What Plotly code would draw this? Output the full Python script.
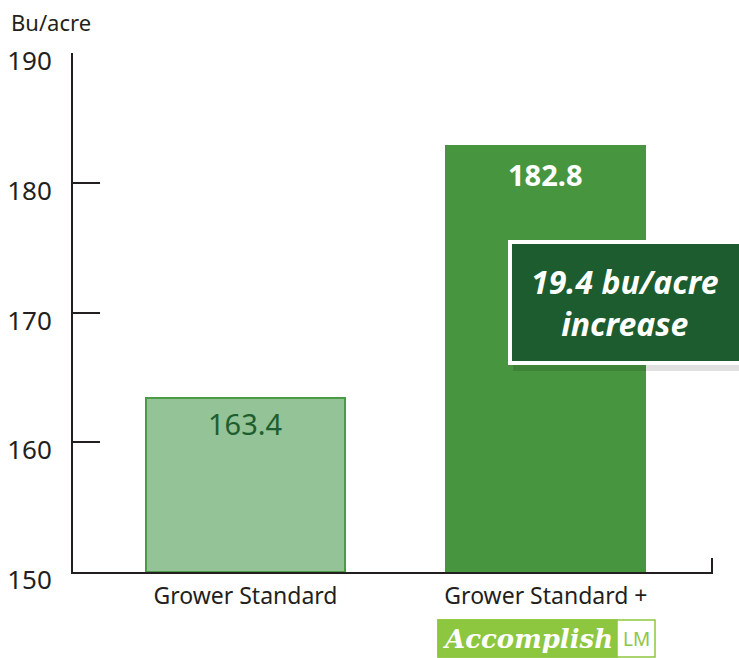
import plotly.graph_objects as go

categories = ["Grower Standard", "Grower Standard +"]
x_pos = [0, 1]
values = [163.4, 182.8]
value_labels = ["163.4", "182.8"]
bar_colors = ["#93c396", "#47963f"]
bar_lines = ["#4a9a48", "#47963f"]
label_colors = ["#1e5e2e", "#ffffff"]
y_ticks = [150, 160, 170, 180, 190]

FONT = "Noto Sans"
W, H = 739, 658
L, R, T, B = 73, 26, 53, 86
PW = W - L - R
PH = H - T - B

def px(x):
    return (x - L) / PW

def py(y):
    return (H - B - y) / PH

fig = go.Figure()
fig.add_trace(go.Bar(
    x=x_pos, y=[v - 150 for v in values], base=150,
    width=0.662,
    marker=dict(color=bar_colors, line=dict(color=bar_lines, width=2)),
    hoverinfo="skip",
))

annotations = []
for xi, v, t, c, bold in zip(x_pos, values, value_labels, label_colors, [False, True]):
    annotations.append(dict(
        x=xi, y=v, xref="x", yref="y", xanchor="center", yanchor="top",
        yshift=-7 if bold else -4,
        text=f"<b>{t}</b>" if bold else t, showarrow=False,
        font=dict(family=FONT, size=29, color=c),
    ))

annotations.append(dict(
    x=px(9), y=py(22), xref="paper", yref="paper", xanchor="left", yanchor="middle",
    text="Bu/acre", showarrow=False,
    font=dict(family=FONT, size=22, color="#231f20"),
))

annotations.append(dict(
    x=px(625), y=py(302), xref="paper", yref="paper", xanchor="center", yanchor="middle",
    text="<b><i>19.4 bu/acre<br>increase</i></b>", showarrow=False,
    font=dict(family=FONT, size=32, color="#ffffff"), align="center",
))

# logo texts
annotations.append(dict(
    x=px(527), y=py(639), xref="paper", yref="paper", xanchor="center", yanchor="middle",
    text="<b><i>Accomplish</i></b>", showarrow=False,
    font=dict(family="DejaVu Serif", size=26, color="#ffffff"),
))
annotations.append(dict(
    x=px(636), y=py(639), xref="paper", yref="paper", xanchor="center", yanchor="middle",
    text="LM", showarrow=False,
    font=dict(family=FONT, size=19, color="#8dc63f"),
))

shapes = [
    # shadow of callout box
    dict(type="rect", xref="paper", yref="paper",
         x0=px(513), x1=px(760), y0=py(371), y1=py(246),
         fillcolor="rgba(0,0,0,0.12)", line=dict(width=0), layer="above"),
    dict(type="rect", xref="paper", yref="paper",
         x0=px(510), x1=px(760), y0=py(363), y1=py(242),
         fillcolor="#1c5c2e", line=dict(color="#ffffff", width=4), layer="above"),
    # right end tick of x axis
    dict(type="line", xref="paper", yref="paper",
         x0=px(712), x1=px(712), y0=0, y1=py(558),
         line=dict(color="#231f20", width=2)),
    # logo boxes
    dict(type="rect", xref="paper", yref="paper",
         x0=px(438), x1=px(655), y0=py(657), y1=py(620),
         fillcolor="#ffffff", line=dict(color="#8dc63f", width=1.5), layer="above"),
    dict(type="rect", xref="paper", yref="paper",
         x0=px(438), x1=px(617), y0=py(657), y1=py(620),
         fillcolor="#8dc63f", line=dict(color="#8dc63f", width=1.5), layer="above"),
]

fig.update_layout(
    width=W, height=H,
    margin=dict(l=L, r=R, t=T, b=B, autoexpand=False),
    paper_bgcolor="#ffffff", plot_bgcolor="#ffffff",
    showlegend=False,
    bargap=0,
    annotations=annotations,
    shapes=shapes,
    font=dict(family=FONT, color="#231f20"),
    xaxis=dict(
        range=[-0.574, 1.556], tickvals=x_pos, ticktext=categories,
        showline=True, linecolor="#231f20", linewidth=2,
        ticks="", showgrid=False, zeroline=False,
        tickfont=dict(family=FONT, size=23, color="#231f20"),
        ticklabelstandoff=2, automargin=False,
        fixedrange=True,
    ),
    yaxis=dict(
        range=[150, 190], tickvals=y_ticks,
        showline=True, linecolor="#231f20", linewidth=2,
        ticks="inside", ticklen=27, tickwidth=2, tickcolor="#231f20",
        showgrid=False, zeroline=False,
        tickfont=dict(family=FONT, size=26, color="#231f20"),
        ticklabelstandoff=14,
        ticklabelshift=8,
        automargin=False,
        fixedrange=True,
    ),
)

fig.write_html("out.html")
